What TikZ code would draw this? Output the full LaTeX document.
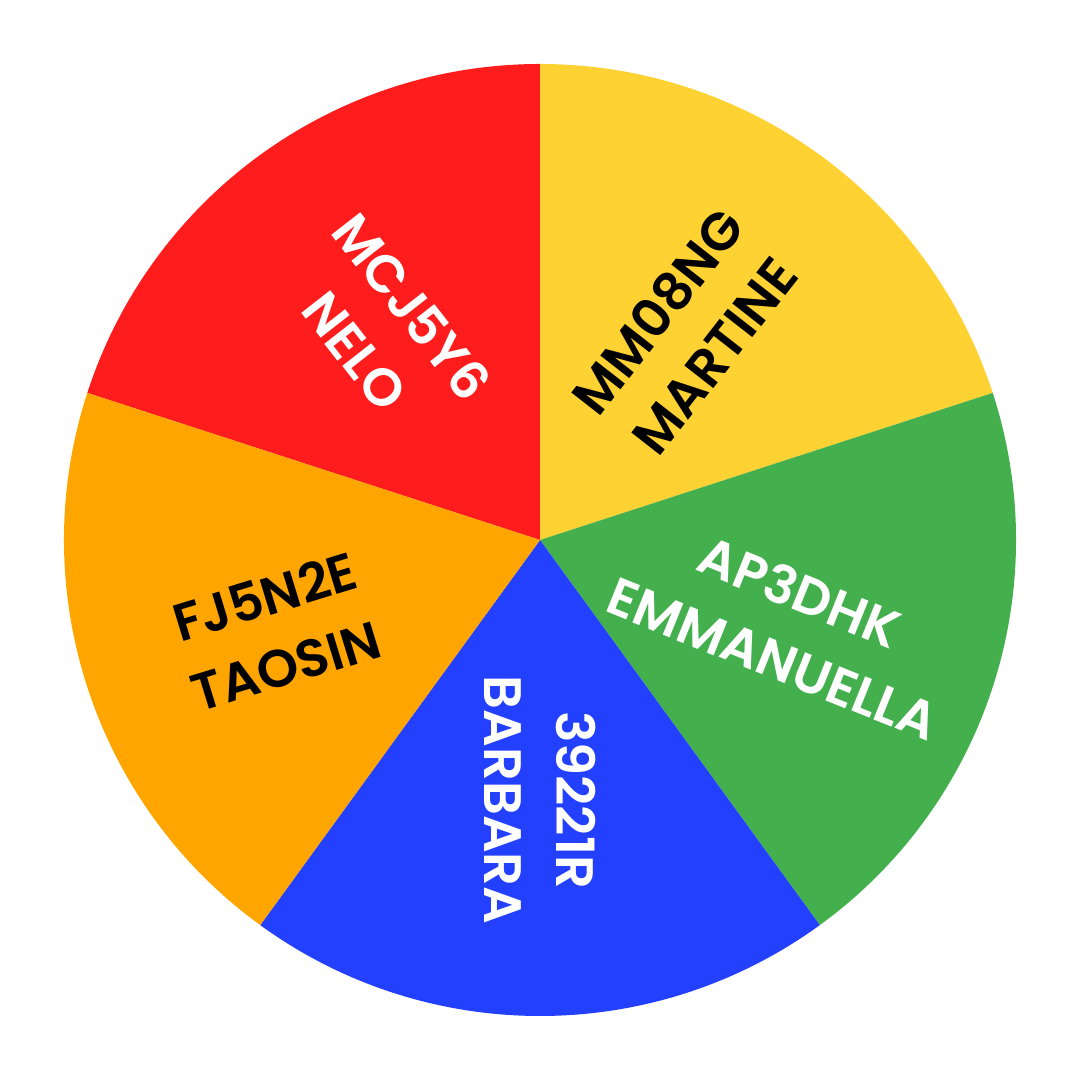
\documentclass[tikz,border=0pt]{standalone}
\usepackage{fontspec}
\usepackage{tikz}
\usetikzlibrary{calc}
\newfontfamily\wheelfont{Poppins SemiBold}
\definecolor{wheelred}{HTML}{FF1C1C}
\definecolor{wheelyellow}{HTML}{FFD233}
\definecolor{wheelgreen}{HTML}{43B04D}
\definecolor{wheelblue}{HTML}{2340FF}
\definecolor{wheelorange}{HTML}{FFA500}

\begin{document}
\begin{tikzpicture}[
  slice/.style={draw=none},
  wheellabel/.style={align=center, inner sep=0pt,
               font=\wheelfont\fontsize{15}{20.5}\selectfont}
]
  \useasboundingbox (0,0) rectangle (10.8,10.8);
  \coordinate (hub) at (5.4,5.4);

  % five slices of 72 degrees
  \fill[slice, wheelred] (hub) -- ++(90:4.76) arc[start angle=90, end angle=162, radius=4.76] -- cycle;
  \fill[slice, wheelyellow] (hub) -- ++(18:4.76) arc[start angle=18, end angle=90, radius=4.76] -- cycle;
  \fill[slice, wheelgreen] (hub) -- ++(-54:4.76) arc[start angle=-54, end angle=18, radius=4.76] -- cycle;
  \fill[slice, wheelblue] (hub) -- ++(-126:4.76) arc[start angle=-126, end angle=-54, radius=4.76] -- cycle;
  \fill[slice, wheelorange] (hub) -- ++(162:4.76) arc[start angle=162, end angle=234, radius=4.76] -- cycle;

  \node[wheellabel, text=white, rotate=-52] (nelo) at ($(hub)+(126.5:2.63)$) {MCJ5Y6\\NELO};
  \node[wheellabel, text=black, rotate=52] (martine) at ($(hub)+(54.8:2.53)$) {MM08NG\\MARTINE};
  \node[wheellabel, text=white, rotate=-22] (emmanuella) at ($(hub)+(-19:2.61)$) {AP3DHK\\EMMANUELLA};
  \node[wheellabel, text=white, rotate=-90] (barbara) at ($(hub)+(-90:2.6)$) {39221R\\BARBARA};
  \node[wheellabel, text=black, rotate=17] (taosin) at ($(hub)+(199:2.8)$) {FJ5N2E\\TAOSIN};
\end{tikzpicture}
\end{document}
